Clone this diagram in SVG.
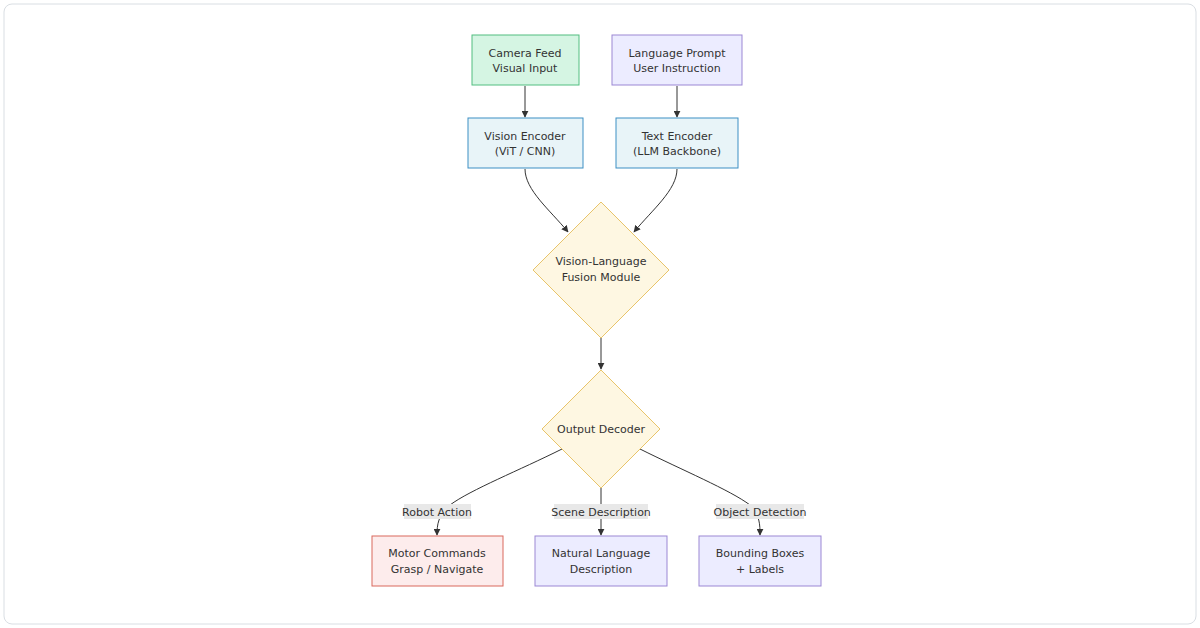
<svg xmlns="http://www.w3.org/2000/svg" width="1200" height="628" viewBox="0 0 1200 628">
<style>
text{font-family:"DejaVu Sans",sans-serif;font-size:11px;fill:#333;text-anchor:middle}
.e{fill:none;stroke:#333;stroke-width:1}
.lb{fill:#e8e8e8}
</style>
<defs><marker id="a" viewBox="0 0 10 10" refX="9" refY="5" markerWidth="7" markerHeight="7" orient="auto"><path d="M0,0L10,5L0,10z" fill="#333"/></marker></defs>
<rect x="4" y="4" width="1192" height="620" rx="8" fill="#fff" stroke="#d9dee3"/>
<g id="connectors">
<path class="e" d="M525,86V117" marker-end="url(#a)"/>
<path class="e" d="M677,86V117" marker-end="url(#a)"/>
<path class="e" d="M525,169C525,190 550,210 568,232" marker-end="url(#a)"/>
<path class="e" d="M677,169C677,190 652,210 634,232" marker-end="url(#a)"/>
<path class="e" d="M601,338V369" marker-end="url(#a)"/>
<path class="e" d="M562,449C520,470 470,490 450,505C438,515 437,525 437,535" marker-end="url(#a)"/>
<path class="e" d="M601,488V535" marker-end="url(#a)"/>
<path class="e" d="M640,449C682,470 730,490 750,505C760,515 760,525 760,535" marker-end="url(#a)"/>
<rect class="lb" x="404" y="504" width="67" height="15"/><text x="437" y="516">Robot Action</text>
<rect class="lb" x="554" y="504" width="94" height="15"/><text x="601" y="516">Scene Description</text>
<rect class="lb" x="716" y="504" width="88" height="15"/><text x="760" y="516">Object Detection</text>
</g>
<g id="camera"><rect x="472" y="35" width="107" height="50" fill="#d5f5e3" stroke="#52be80"/><text x="525" y="57">Camera Feed</text><text x="525" y="72">Visual Input</text></g>
<g id="prompt"><rect x="612" y="35" width="130" height="50" fill="#ececff" stroke="#9b87d4"/><text x="677" y="57">Language Prompt</text><text x="677" y="72">User Instruction</text></g>
<g id="vision"><rect x="468" y="118" width="115" height="50" fill="#e8f4f8" stroke="#3d8fc4"/><text x="525" y="140">Vision Encoder</text><text x="525" y="155">(ViT / CNN)</text></g>
<g id="text"><rect x="616" y="118" width="122" height="50" fill="#e8f4f8" stroke="#3d8fc4"/><text x="677" y="140">Text Encoder</text><text x="677" y="155">(LLM Backbone)</text></g>
<g id="fusion"><polygon points="601,202 669,270 601,338 533,270" fill="#fef7e2" stroke="#e8c46a"/><text x="601" y="265">Vision-Language</text><text x="601" y="281">Fusion Module</text></g>
<g id="decoder"><polygon points="601,370 660,429 601,488 542,429" fill="#fef7e2" stroke="#e8c46a"/><text x="601" y="433">Output Decoder</text></g>
<g id="motor"><rect x="372" y="536" width="131" height="50" fill="#fdecec" stroke="#d9685c"/><text x="437" y="557">Motor Commands</text><text x="437" y="573">Grasp / Navigate</text></g>
<g id="natural"><rect x="535" y="536" width="132" height="50" fill="#ececff" stroke="#9b87d4"/><text x="601" y="557">Natural Language</text><text x="601" y="573">Description</text></g>
<g id="bbox"><rect x="699" y="536" width="122" height="50" fill="#ececff" stroke="#9b87d4"/><text x="760" y="557">Bounding Boxes</text><text x="760" y="573">+ Labels</text></g>
</svg>
